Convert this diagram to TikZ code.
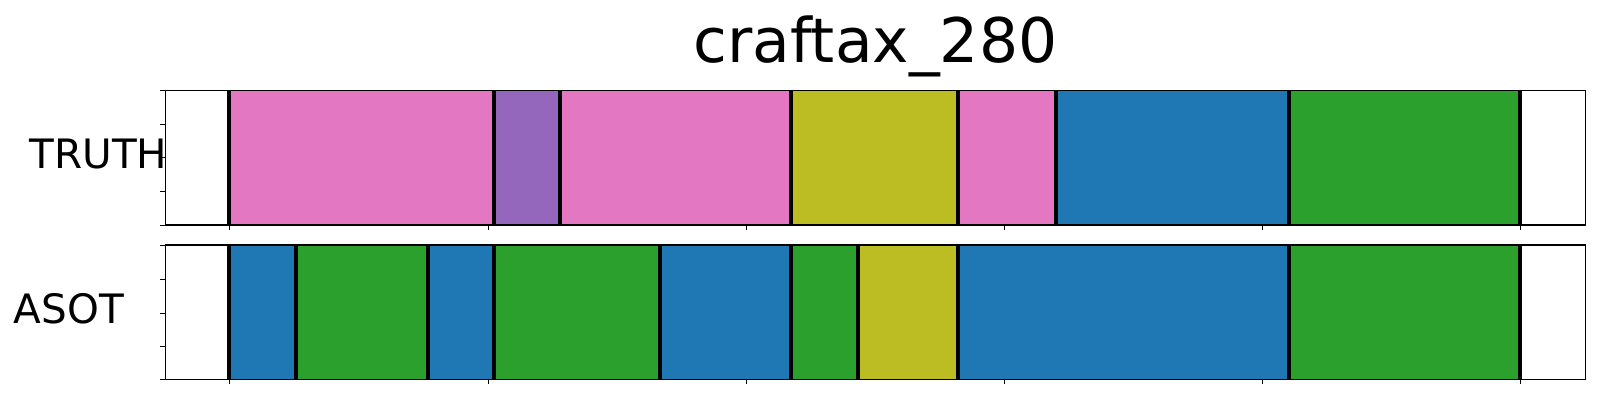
\documentclass[tikz,border=0pt]{standalone}
\usepackage{fontspec}
\setmainfont{DejaVu Sans}
\definecolor{tabblue}{HTML}{1F77B4}
\definecolor{tabgreen}{HTML}{2CA02C}
\definecolor{tabpurple}{HTML}{9467BD}
\definecolor{tabpink}{HTML}{E377C2}
\definecolor{tabolive}{HTML}{BCBD22}

\begin{document}
\begin{tikzpicture}[x=1pt, y=-1pt,
  frame/.style={draw=black, line width=1.1pt},
  tick/.style={draw=black, line width=0.8pt},
  bound/.style={draw=black, line width=4pt},
  lab/.style={inner sep=0pt, anchor=base west, font=\fontsize{40.5}{48}\selectfont}]
 \useasboundingbox (0,0) rectangle (1600,400);

 \node[inner sep=0pt, anchor=base, font=\fontsize{61.5}{72}\selectfont] (title) at (875.4,62.7) {craftax\_280};
 \node[lab] (truth) at (29.5,168.3) {TRUTH};
 \node[lab] (asot) at (13.7,323.3) {ASOT};

 % TRUTH row
 \foreach \a/\b/\c in {229/494/tabpink, 494/559.6/tabpurple, 559.6/791.4/tabpink,
   791.4/957.9/tabolive, 957.9/1056.4/tabpink, 1056.4/1288.9/tabblue, 1288.9/1520/tabgreen}
   \fill[\c] (\a,90.3) rectangle (\b,225);
 \foreach \x in {229,494,559.6,791.4,957.9,1056.4,1288.9,1520}
   \draw[bound] (\x,90.3) -- (\x,225);
 \draw[frame] (165.4,90.3) rectangle (1585.4,225);
 \foreach \y in {90.3,124,157.7,191.3,225}
   \draw[tick] (165.4,\y) -- ++(-5,0);
 \foreach \x in {229,488.3,746.4,1004.3,1262.5,1520.4}
   \draw[tick] (\x,225) -- ++(0,5);

 % ASOT row
 \foreach \a/\b/\c in {229/295.7/tabblue, 295.7/428.2/tabgreen, 428.2/494/tabblue,
   494/660/tabgreen, 660/791.4/tabblue, 791.4/857.9/tabgreen, 857.9/957.9/tabolive,
   957.9/1288.9/tabblue, 1288.9/1520/tabgreen}
   \fill[\c] (\a,245) rectangle (\b,379.3);
 \foreach \x in {229,295.7,428.2,494,660,791.4,857.9,957.9,1288.9,1520}
   \draw[bound] (\x,245) -- (\x,379.3);
 \draw[frame] (165.4,245) rectangle (1585.4,379.3);
 \foreach \y in {245,279.3,313.3,346.7,379.3}
   \draw[tick] (165.4,\y) -- ++(-5,0);
 \foreach \x in {229,488.3,746.4,1004.3,1262.5,1520.4}
   \draw[tick] (\x,379.3) -- ++(0,5);
\end{tikzpicture}
\end{document}
